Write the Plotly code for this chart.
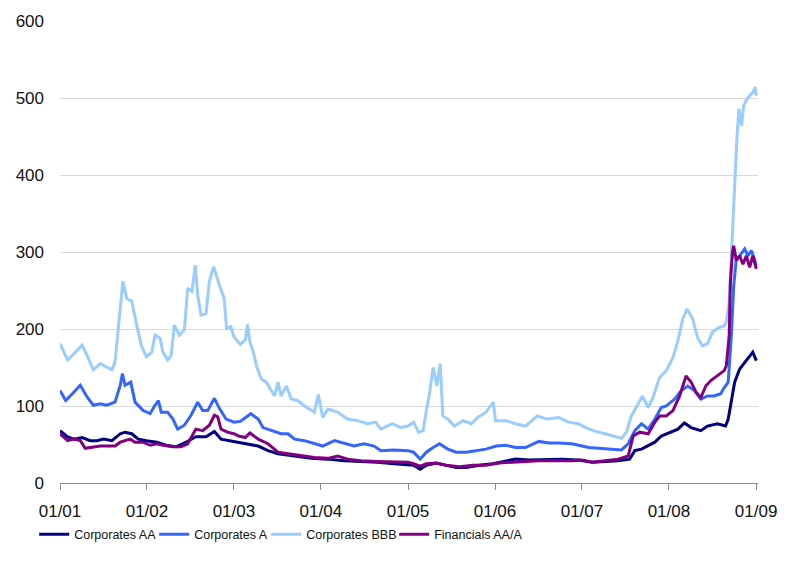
import plotly.graph_objects as go

# ---------------- data ----------------
aa_dates = ["2001-01-01","2001-02-02","2001-03-01","2001-04-04","2001-05-08","2001-06-05","2001-07-03",
            "2001-08-07","2001-09-11","2001-10-01","2001-10-29","2001-11-26","2001-12-30","2002-02-11",
            "2002-03-22","2002-05-03","2002-06-14","2002-07-25","2002-09-06","2002-10-11","2002-11-08",
            "2002-12-12","2003-01-21","2003-03-02","2003-04-13","2003-05-24","2003-07-05","2003-09-13",
            "2003-11-22","2004-01-30","2004-04-08","2004-06-17","2004-08-25","2004-11-03","2005-01-05",
            "2005-01-24","2005-02-21","2005-03-19","2005-04-29","2005-06-10","2005-07-22","2005-09-02",
            "2005-10-27","2005-12-22","2006-02-16","2006-03-28","2006-05-22","2006-08-01","2006-10-09",
            "2006-12-17","2007-02-13","2007-04-08","2007-06-02","2007-07-20","2007-08-11","2007-09-08",
            "2007-10-06","2007-11-03","2007-11-30","2007-12-21","2008-02-08","2008-03-06","2008-04-03",
            "2008-05-14","2008-06-11","2008-07-22","2008-08-26","2008-09-06","2008-09-19","2008-10-03",
            "2008-10-24","2008-11-14","2008-12-05","2008-12-18","2009-01-02"]
aa_values = [68,60,57,59,55,55,57,55,64,66,64,57,55,53,49,47,53,60,60,67,57,55,53,51,48,42,38,35,32,31,
             29,28,27,25,23,23,18,23,26,23,20,20,23,25,28,31,30,31,31,30,27,28,29,31,42,44,48,53,61,64,
             70,78,72,68,74,77,74,83,109,131,148,157,165,170,159]

a_dates = ["2001-01-01","2001-01-25","2001-02-22","2001-03-27","2001-04-24","2001-05-21","2001-06-19",
           "2001-07-16","2001-08-20","2001-09-11","2001-09-20","2001-10-01","2001-10-25","2001-11-12",
           "2001-12-16","2002-01-14","2002-02-04","2002-02-18","2002-03-02","2002-03-29","2002-04-20",
           "2002-05-10","2002-06-07","2002-07-05","2002-08-02","2002-08-23","2002-09-13","2002-10-11",
           "2002-11-01","2002-11-29","2003-01-02","2003-01-28","2003-03-13","2003-04-13","2003-05-03",
           "2003-06-07","2003-07-18","2003-08-16","2003-09-13","2003-10-24","2003-12-05","2004-01-09",
           "2004-02-27","2004-04-08","2004-05-19","2004-07-01","2004-08-11","2004-09-09","2004-11-03",
           "2005-01-01","2005-01-24","2005-02-21","2005-03-19","2005-04-16","2005-05-13","2005-06-17",
           "2005-07-22","2005-09-02","2005-10-14","2005-11-24","2006-01-06","2006-02-16","2006-03-28",
           "2006-05-09","2006-07-04","2006-08-15","2006-09-25","2006-11-20","2007-01-01","2007-01-30",
           "2007-03-11","2007-05-05","2007-06-16","2007-07-14","2007-08-11","2007-09-08","2007-10-06",
           "2007-11-03","2007-11-30","2007-12-21","2008-01-25","2008-02-22","2008-03-20","2008-04-17",
           "2008-05-14","2008-06-11","2008-07-09","2008-08-06","2008-08-16","2008-09-06","2008-09-19",
           "2008-09-29","2008-10-10","2008-10-24","2008-11-14","2008-11-28","2008-12-12","2008-12-25",
           "2009-01-02"]
a_values = [120,107,116,127,112,101,103,101,105,127,142,127,131,105,94,90,101,107,92,92,83,70,75,88,105,
            94,94,110,97,83,79,80,90,83,72,68,64,64,57,55,51,48,55,51,48,51,48,42,43,42,40,31,40,46,51,
            44,40,40,42,44,48,49,46,46,54,52,52,51,48,46,45,44,43,51,68,77,70,83,98,100,109,120,126,120,
            109,113,113,116,122,131,191,256,291,295,304,295,302,291,282]

bbb_dates = ["2001-01-01","2001-02-02","2001-03-01","2001-04-04","2001-04-24","2001-05-21","2001-06-19",
             "2001-07-16","2001-08-07","2001-08-20","2001-09-04","2001-09-22","2001-10-08","2001-10-29",
             "2001-11-19","2001-12-10","2001-12-30","2002-01-21","2002-02-04","2002-02-25","2002-03-09",
             "2002-03-29","2002-04-13","2002-04-26","2002-05-17","2002-06-07","2002-06-21","2002-07-09",
             "2002-07-23","2002-08-02","2002-08-16","2002-09-06","2002-09-20","2002-10-08","2002-11-01",
             "2002-11-21","2002-12-01","2002-12-19","2003-01-01","2003-01-28","2003-02-18","2003-02-27",
             "2003-03-09","2003-03-22","2003-04-06","2003-04-26","2003-05-17","2003-06-21","2003-07-05",
             "2003-07-18","2003-08-09","2003-08-30","2003-09-27","2003-10-24","2003-12-05","2003-12-21",
             "2004-01-09","2004-01-30","2004-03-11","2004-04-22","2004-06-03","2004-07-14","2004-08-18",
             "2004-09-09","2004-10-27","2004-12-01","2005-01-01","2005-01-24","2005-02-14","2005-03-05",
             "2005-03-19","2005-04-02","2005-04-16","2005-05-02","2005-05-16","2005-05-27","2005-06-17",
             "2005-07-15","2005-08-19","2005-09-23","2005-10-20","2005-11-24","2005-12-25","2006-01-03",
             "2006-02-16","2006-03-28","2006-05-09","2006-06-27","2006-08-08","2006-09-25","2006-11-06",
             "2006-12-17","2007-01-16","2007-02-27","2007-04-08","2007-05-19","2007-06-16","2007-07-07",
             "2007-07-27","2007-08-25","2007-09-12","2007-10-06","2007-10-26","2007-11-23","2007-12-21",
             "2008-01-18","2008-02-08","2008-02-28","2008-03-17","2008-04-10","2008-04-30","2008-05-21",
             "2008-06-11","2008-07-02","2008-07-29","2008-08-20","2008-08-29","2008-09-10","2008-09-19",
             "2008-10-03","2008-10-13","2008-10-21","2008-11-01","2008-11-10","2008-11-21","2008-12-05",
             "2008-12-18","2008-12-28","2009-01-02"]
bbb_values = [181,160,168,179,166,147,155,151,147,157,205,262,240,236,205,177,164,170,192,188,170,160,
              166,205,192,199,253,249,283,244,218,220,262,281,257,240,201,203,190,180,186,206,183,172,
              152,135,131,113,131,113,126,109,107,100,92,115,85,96,92,83,81,77,79,70,77,72,74,79,66,68,
              94,118,150,126,155,87,83,74,81,77,85,92,105,81,81,77,74,87,83,85,79,77,72,67,64,61,58,66,
              87,103,113,98,111,137,146,163,185,213,226,213,189,178,181,196,202,204,209,235,300,386,451,
              486,464,490,497,503,507,514,503]

fin_dates = ["2001-01-01","2001-02-02","2001-03-01","2001-03-27","2001-04-17","2001-05-21","2001-06-19",
             "2001-07-16","2001-08-20","2001-09-11","2001-10-22","2001-11-12","2001-12-16","2002-01-14",
             "2002-02-11","2002-03-09","2002-04-20","2002-05-24","2002-06-21","2002-07-25","2002-08-23",
             "2002-09-20","2002-10-11","2002-10-25","2002-11-08","2002-12-05","2003-01-01","2003-01-21",
             "2003-02-18","2003-03-09","2003-04-13","2003-05-24","2003-07-05","2003-08-16","2003-10-11",
             "2003-12-05","2004-01-30","2004-03-11","2004-04-22","2004-06-17","2004-08-25","2004-11-03",
             "2005-01-01","2005-01-24","2005-02-21","2005-03-19","2005-04-29","2005-06-10","2005-08-05",
             "2005-09-30","2005-11-24","2006-01-19","2006-03-14","2006-05-09","2006-07-04","2006-09-12",
             "2006-11-20","2007-01-01","2007-02-13","2007-04-08","2007-06-02","2007-07-14","2007-08-04",
             "2007-09-01","2007-10-06","2007-11-03","2007-11-23","2007-12-21","2008-01-18","2008-02-15",
             "2008-03-13","2008-04-03","2008-04-24","2008-05-14","2008-06-04","2008-06-25","2008-07-22",
             "2008-08-20","2008-08-29","2008-09-10","2008-09-15","2008-09-24","2008-09-29","2008-10-10",
             "2008-10-24","2008-11-07","2008-11-21","2008-12-05","2008-12-18","2009-01-02"]
fin_values = [64,55,57,55,45,47,48,48,48,53,57,53,53,49,51,49,47,47,51,70,68,75,88,86,70,66,64,61,59,65,
              57,51,40,38,35,33,32,35,31,29,28,27,27,25,22,25,26,23,21,23,23,26,27,28,29,29,29,30,27,29,
              31,35,61,66,64,79,87,87,94,113,139,131,118,111,126,133,139,146,152,191,260,300,308,289,295,
              284,295,280,295,278]

series_names = ["Corporates AA", "Corporates A", "Corporates BBB", "Financials AA/A"]
series_colors = ["#000080", "#3366FF", "#99CCFF", "#800080"]
legend_widths = [75, 67, 83, 90]
y_ticks = [0, 100, 200, 300, 400, 500, 600]
x_ticks = ["2001-01-01", "2002-01-01", "2003-01-01", "2004-01-01", "2005-01-01",
           "2006-01-01", "2007-01-01", "2008-01-01", "2009-01-01"]
x_tick_labels = ["01/01", "01/02", "01/03", "01/04", "01/05", "01/06", "01/07", "01/08", "01/09"]

# ---------------- figure ----------------
fig = go.Figure()
all_x = [aa_dates, a_dates, bbb_dates, fin_dates]
all_y = [aa_values, a_values, bbb_values, fin_values]
for name, color, lw, xs, ys in zip(series_names, series_colors, legend_widths, all_x, all_y):
    fig.add_trace(go.Scatter(x=xs, y=ys, mode="lines", name=name, legendwidth=lw,
                             line=dict(color=color, width=3)))

font_main = "Liberation Sans, Arial, sans-serif"
fig.update_layout(
    width=789, height=571,
    margin=dict(l=60, r=24, t=21, b=88),
    paper_bgcolor="white", plot_bgcolor="white",
    font=dict(family=font_main, size=17, color="#111111"),
    showlegend=True,
    legend=dict(orientation="h", x=-0.037, xanchor="left", y=-0.112, yanchor="middle",
                font=dict(family=font_main, size=12.5, color="#111111"),
                itemwidth=30, tracegroupgap=0),
    xaxis=dict(type="date", range=["2001-01-01", "2009-01-09"],
               tickvals=x_ticks, ticktext=x_tick_labels,
               showgrid=False, zeroline=False,
               showline=True, linecolor="#8c8c8c", linewidth=1,
               ticks="outside", ticklen=6, tickcolor="#8c8c8c",
               ticklabelstandoff=7),
    yaxis=dict(range=[0, 600], tickvals=y_ticks,
               showgrid=True, gridcolor="#d9d9d9", gridwidth=1,
               zeroline=False, showline=False, ticks="",
               ticklabelstandoff=15),
)

fig.write_html("out.html", config={"displayModeBar": False},
               post_script="document.body.style.margin='0';")
